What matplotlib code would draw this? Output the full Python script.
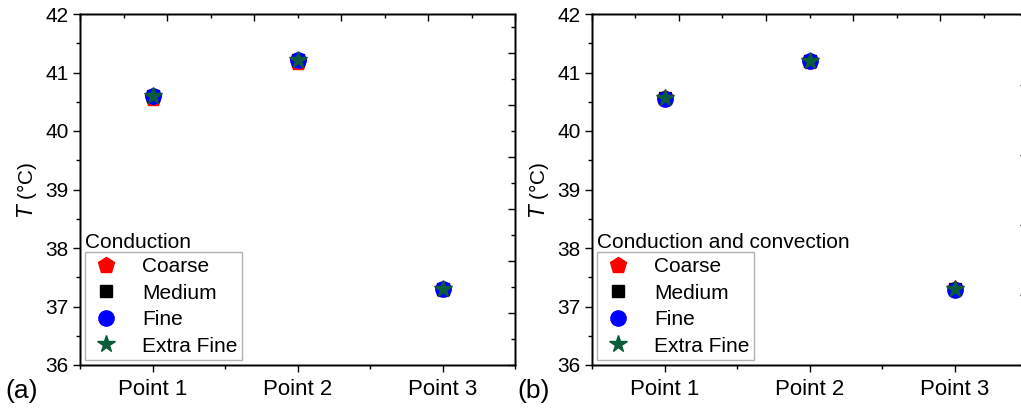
import numpy as np
import matplotlib.pyplot as plt
from matplotlib.lines import Line2D
from matplotlib.ticker import MultipleLocator, NullFormatter

plt.rcParams.update({
    "font.family": ["Liberation Sans", "DejaVu Sans"],
    "font.size": 15,
    "axes.linewidth": 1.0,
})

points = ["Point 1", "Point 2", "Point 3"]
meshes = ["Coarse", "Medium", "Fine", "Extra Fine"]

# temperatures (degC)
cond = {
    "Coarse":     [40.56, 41.18, 37.30],
    "Medium":     [40.59, 41.21, 37.30],
    "Fine":       [40.60, 41.22, 37.30],
    "Extra Fine": [40.60, 41.22, 37.30],
}
conv = {
    "Coarse":     [40.57, 41.20, 37.30],
    "Medium":     [40.56, 41.20, 37.30],
    "Fine":       [40.55, 41.19, 37.29],
    "Extra Fine": [40.56, 41.20, 37.30],
}

styles = {
    "Coarse":     dict(marker="p", color="#ff0000", ms=12),
    "Medium":     dict(marker="s", color="#000000", ms=9),
    "Fine":       dict(marker="o", color="#0000ff", ms=11),
    "Extra Fine": dict(marker="*", color="#0a5c3a", ms=13),
}

W, H = 1021, 409
fig = plt.figure(figsize=(W / 100, H / 100), dpi=100)


def box(x0, x1, y0, y1):
    return [x0 / W, 1 - y1 / H, (x1 - x0) / W, (y1 - y0) / H]


panels = [
    (box(80, 515, 14, 365), cond, "Conduction", "(a)", 52),
    (box(592, 1027, 14, 365), conv, "Conduction and convection", "(b)", 70),
]

for rect, data, title, tag, rstep in panels:
    ax = fig.add_axes(rect)
    x = np.arange(1, len(points) + 1)
    for m in meshes:
        st = styles[m]
        ax.plot(x, data[m], ls="none", marker=st["marker"], color=st["color"],
                ms=st["ms"], mec=st["color"], zorder=3)

    ax.set_xlim(0.5, 3.5)
    ax.set_ylim(36, 42)
    ax.set_xticks(x)
    ax.set_xticklabels(points)
    ax.xaxis.set_minor_locator(MultipleLocator(0.5))
    ax.yaxis.set_major_locator(MultipleLocator(1))
    ax.yaxis.set_minor_locator(MultipleLocator(0.5))
    ax.tick_params(axis="both", which="major", direction="out", length=5,
                   width=1, labelsize=15, top=False, right=False, pad=3)
    ax.tick_params(axis="x", which="major", labelsize=16, pad=5)
    ax.tick_params(axis="both", which="minor", direction="out", length=3,
                   width=1, top=False, right=False)
    ax.set_ylabel(r"$\it{T}$ (°C)", fontsize=15, labelpad=5)

    # mirrored frame axes with their own tick spacing
    top = ax.twiny()
    top.set_xlim(0, 5)
    top.xaxis.set_major_locator(MultipleLocator(1))
    top.xaxis.set_minor_locator(MultipleLocator(0.5))
    top.xaxis.set_major_formatter(NullFormatter())
    top.tick_params(axis="x", which="major", direction="in", length=5, width=1)
    top.tick_params(axis="x", which="minor", direction="in", length=3, width=1)

    right = ax.twinx()
    right.set_ylim(0, 351 / rstep)
    right.yaxis.set_major_locator(MultipleLocator(1))
    right.yaxis.set_minor_locator(MultipleLocator(0.5))
    right.yaxis.set_major_formatter(NullFormatter())
    right.tick_params(axis="y", which="major", direction="in", length=5, width=1)
    right.tick_params(axis="y", which="minor", direction="in", length=3, width=1)

    handles = [Line2D([], [], ls="none", marker=styles[m]["marker"],
                      color=styles[m]["color"], ms=styles[m]["ms"])
               for m in meshes]
    leg = ax.legend(handles, meshes, loc="lower left",
                    bbox_to_anchor=(0.012, 0.014), borderaxespad=0,
                    frameon=True, fancybox=False, edgecolor="#a0a0a0",
                    fontsize=15, handlelength=1.6, handletextpad=0.9,
                    labelspacing=0.36, borderpad=0.22)
    leg.get_frame().set_linewidth(1.0)
    leg.set_zorder(5)
    ax.text(0.012, 0.322, title, transform=ax.transAxes, fontsize=15,
            ha="left", va="bottom")
    ax.text(-0.172, -0.04, tag, transform=ax.transAxes, fontsize=19,
            ha="left", va="top")

fig.savefig("out.png", dpi=100)
